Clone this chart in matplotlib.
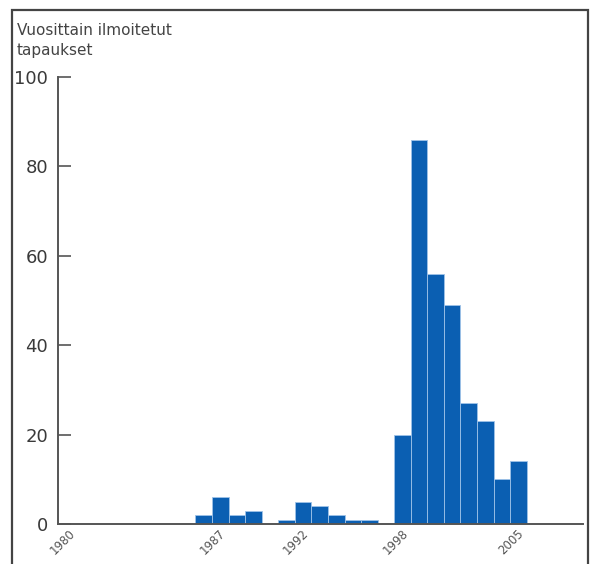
import matplotlib.pyplot as plt
import matplotlib.transforms as mtransforms
from matplotlib.patches import Rectangle

# yearly reported cases
years = list(range(1986, 2006))
cases = [2, 6, 2, 3, 0, 1, 5, 4, 2, 1, 1, 0, 20, 86, 56, 49, 27, 23, 10, 14]

tick_years = [1977.9, 1987, 1992, 1998, 2005]
tick_labels = ['1980', '1987', '1992', '1998', '2005']
y_ticks = [0, 20, 40, 60, 80, 100]

bar_color = '#0b5fb2'
axis_color = '#555555'

fig = plt.figure(figsize=(5.92, 5.64), dpi=100)
ax = fig.add_axes([58 / 592, 40 / 564, (583 - 58) / 592, (524 - 77) / 564])

ax.bar(years, cases, width=1.0, color=bar_color, edgecolor='#9fc3e8', linewidth=0.6)

ax.set_xlim(1977.2, 2008.9)
ax.set_ylim(0, 100)

for side in ['top', 'right']:
    ax.spines[side].set_visible(False)
for side in ['left', 'bottom']:
    ax.spines[side].set_color(axis_color)
    ax.spines[side].set_linewidth(1.4)

ax.set_yticks(y_ticks)
ax.tick_params(axis='y', direction='in', length=9, width=1.2, color=axis_color,
               labelsize=13, labelcolor='#3a3a3a', pad=7)

ax.set_xticks(tick_years)
ax.set_xticklabels(tick_labels, rotation=45, ha='right', va='top', fontsize=8.5, color='#555555')
ax.tick_params(axis='x', length=0, pad=2)
# shift labels so their upper end sits at the right edge of the bar
offset = mtransforms.ScaledTranslation(8 / 100, 0, fig.dpi_scale_trans)
for lbl in ax.get_xticklabels():
    lbl.set_transform(lbl.get_transform() + offset)

fig.text(17 / 592, 1 - 23 / 564, 'Vuosittain ilmoitetut\ntapaukset', ha='left', va='top',
         fontsize=11, color='#444444', linespacing=1.4)

# frame around the picture
fig.patches.append(Rectangle((12 / 592, -0.1), (588 - 12) / 592, 1.1 - 10 / 564,
                             transform=fig.transFigure, fill=False,
                             edgecolor='#444444', linewidth=1.6))

fig.savefig('out.png', dpi=100)
